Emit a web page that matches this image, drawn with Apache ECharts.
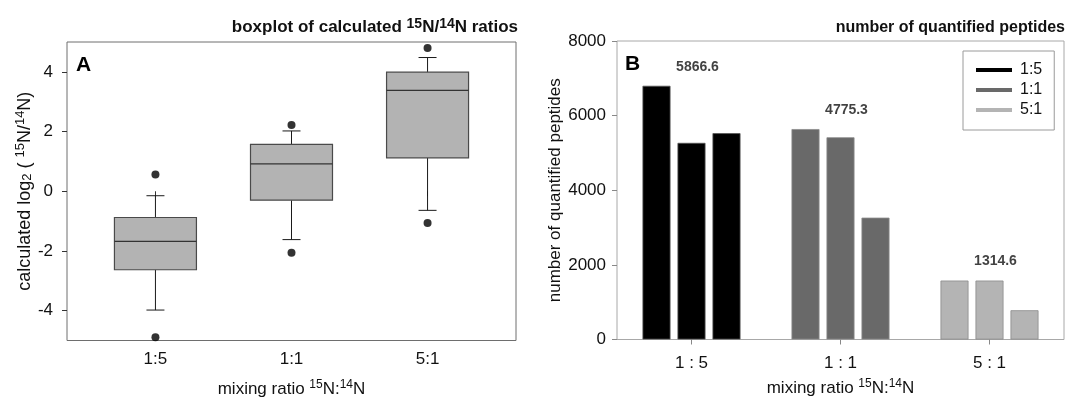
<!DOCTYPE html>
<html>
<head>
<meta charset="utf-8">
<script src="https://cdn.jsdelivr.net/npm/echarts@6/dist/echarts.min.js"></script>
<style>
  html, body { margin: 0; padding: 0; background: #fff; }
  #chart { width: 1067px; height: 398px; }
</style>
</head>
<body>
<div id="chart"></div>
<script>
// panel A: boxplot of calculated log2 ratios
const ratioLabels = ['1:5', '1:1', '5:1']
const ratioPos = [1, 2, 3]
const whiskerLow = [-3.98, -1.62, -0.64]
const q1 = [-2.63, -0.30, 1.12]
const median = [-1.68, 0.92, 3.38]
const q3 = [-0.88, 1.57, 3.99]
const whiskerHigh = [-0.15, 2.02, 4.48]
const outlierHigh = [0.56, 2.22, 4.80]
const outlierLow = [-4.89, -2.06, -1.06]
const ratioTicks = [-4, -2, 0, 2, 4]

// panel B: number of quantified peptides (3 replicates per mixing ratio)
const groupLabels = ['1 : 5', '1 : 1', '5 : 1']
const rep1 = [6800, 5640, 1580]
const rep2 = [5270, 5420, 1580]
const rep3 = [5530, 3266, 784]
const groupMeans = [5866.6, 4775.3, 1314.6]
const legendNames = ['1:5', '1:1', '5:1']

const groupColors = ['#000000', '#696969', '#b4b4b4']
const FONT = 'Liberation Sans'

const chart = echarts.init(document.getElementById('chart'), null, { renderer: 'canvas' })

// rich text styles for super/subscripts
const rich = (size, supSize, bold) => ({
  b: { fontSize: size, fontWeight: bold ? 'bold' : 'normal', lineHeight: size + 2, verticalAlign: 'bottom', fontFamily: FONT, color: '#111' },
  sup: { fontSize: supSize, fontWeight: bold ? 'bold' : 'normal', lineHeight: supSize, verticalAlign: 'top', fontFamily: FONT, color: '#111' },
  sub: { fontSize: supSize, fontWeight: bold ? 'bold' : 'normal', lineHeight: supSize, verticalAlign: 'bottom', fontFamily: FONT, color: '#111' },
})

const boxData = ratioPos.map((p, i) => [p, whiskerLow[i], q1[i], median[i], q3[i], whiskerHigh[i]])
const outlierData = ratioPos.map((p, i) => [p, outlierHigh[i]])
  .concat(ratioPos.map((p, i) => [p, outlierLow[i]]))

function renderBox(params, api) {
  const x = api.value(0)
  const lo = api.coord([x, api.value(1)])
  const b1 = api.coord([x, api.value(2)])
  const md = api.coord([x, api.value(3)])
  const b3 = api.coord([x, api.value(4)])
  const hi = api.coord([x, api.value(5)])
  const cx = lo[0]
  const half = 41
  const cap = 9
  const wl = { stroke: '#1a1a1a', lineWidth: 1 }
  return {
    type: 'group',
    children: [
      { type: 'line', shape: { x1: cx, y1: hi[1], x2: cx, y2: b3[1] }, style: wl },
      { type: 'line', shape: { x1: cx, y1: b1[1], x2: cx, y2: lo[1] }, style: wl },
      { type: 'line', shape: { x1: cx - cap, y1: hi[1], x2: cx + cap, y2: hi[1] }, style: wl },
      { type: 'line', shape: { x1: cx - cap, y1: lo[1], x2: cx + cap, y2: lo[1] }, style: wl },
      {
        type: 'rect',
        shape: { x: cx - half, y: b3[1], width: half * 2, height: b1[1] - b3[1] },
        style: { fill: '#b3b3b3', stroke: '#4a4a4a', lineWidth: 1.2 },
      },
      { type: 'line', shape: { x1: cx - half, y1: md[1], x2: cx + half, y2: md[1] }, style: { stroke: '#333', lineWidth: 1.2 } },
    ],
  }
}

const axisText = { fontSize: 17, color: '#111', fontFamily: FONT }

const option = {
  backgroundColor: '#ffffff',
  animation: false,
  textStyle: { fontFamily: FONT },
  title: [
    {
      text: '{b|boxplot of calculated }{sup|15}{b|N/}{sup|14}{b|N ratios}',
      right: 549,
      top: 17,
      padding: 0,
      textStyle: { rich: rich(17, 14, true) },
    },
    {
      text: '{b|number of quantified peptides}',
      right: 2,
      top: 18,
      padding: 0,
      textStyle: { rich: rich(16, 13, true) },
    },
  ],
  graphic: [
    { type: 'text', left: 76, top: 55, style: { text: 'A', font: 'bold 21px ' + FONT, fill: '#000' } },
    { type: 'text', left: 625, top: 54, style: { text: 'B', font: 'bold 21px ' + FONT, fill: '#000' } },
  ],
  legend: {
    data: legendNames,
    orient: 'vertical',
    left: 963,
    top: 51,
    padding: [10, 12, 11, 13],
    itemWidth: 36,
    itemHeight: 4,
    itemGap: 2,
    icon: 'rect',
    borderColor: '#9a9a9a',
    borderWidth: 1,
    selectedMode: false,
    textStyle: { fontSize: 16, lineHeight: 18, color: '#111', fontFamily: FONT, padding: [0, 0, 0, 3] },
  },
  grid: [
    { left: 67, top: 42, width: 449, height: 298.5, show: true, borderColor: '#6e6e6e', borderWidth: 1, containLabel: false, outerBoundsMode: 'none' },
    { left: 617, top: 41, width: 447, height: 298.5, show: true, borderColor: '#a8a8a8', borderWidth: 1, containLabel: false, outerBoundsMode: 'none' },
  ],
  xAxis: [
    {
      type: 'value',
      gridIndex: 0,
      min: 0.35,
      max: 3.65,
      splitLine: { show: false },
      axisLine: { show: false },
      axisTick: { show: true, customValues: ratioPos, length: 5, lineStyle: { color: '#333' } },
      axisLabel: { customValues: ratioPos, formatter: (v) => ratioLabels[Math.round(v) - 1], margin: 10, ...axisText },
      name: '{b|mixing ratio }{sup|15}{b|N:}{sup|14}{b|N}',
      nameLocation: 'middle',
      nameGap: 38,
      nameTextStyle: { rich: rich(17, 12, false) },
    },
    {
      type: 'category',
      gridIndex: 1,
      data: groupLabels,
      axisLine: { show: false },
      axisTick: { show: true, alignWithLabel: true, length: 5, lineStyle: { color: '#888' } },
      axisLabel: { margin: 15, ...axisText },
      name: '{b|mixing ratio }{sup|15}{b|N:}{sup|14}{b|N}',
      nameLocation: 'middle',
      nameGap: 38,
      nameTextStyle: { rich: rich(17, 12, false) },
    },
  ],
  yAxis: [
    {
      type: 'value',
      gridIndex: 0,
      min: -5,
      max: 5,
      splitLine: { show: false },
      axisLine: { show: false },
      axisTick: { show: true, customValues: ratioTicks, length: 5, lineStyle: { color: '#333' } },
      axisLabel: { customValues: ratioTicks, margin: 14, ...axisText },
      name: '{b|calculated log}{sub|2}{b| ( }{sup|15}{b|N/}{sup|14}{b|N)}',
      nameLocation: 'middle',
      nameGap: 31,
      nameTextStyle: { rich: rich(18, 13, false) },
    },
    {
      type: 'value',
      gridIndex: 1,
      min: 0,
      max: 8000,
      interval: 2000,
      splitLine: { show: false },
      axisLine: { show: false },
      axisTick: { show: true, length: 5, lineStyle: { color: '#888' } },
      axisLabel: { margin: 11, formatter: (v) => String(v), ...axisText },
      name: '{b|number of quantified peptides}',
      nameLocation: 'middle',
      nameGap: 53,
      nameTextStyle: { rich: rich(17, 12, false) },
    },
  ],
  series: [
    {
      name: 'box',
      type: 'custom',
      xAxisIndex: 0,
      yAxisIndex: 0,
      renderItem: renderBox,
      encode: { x: 0, y: [1, 2, 3, 4, 5] },
      data: boxData,
      z: 3,
    },
    {
      name: 'outliers',
      type: 'scatter',
      xAxisIndex: 0,
      yAxisIndex: 0,
      symbolSize: 8,
      itemStyle: { color: '#000' },
      data: outlierData,
      z: 4,
    },
    ...[rep1, rep2, rep3].map((rep, k) => ({
      name: 'rep' + (k + 1),
      type: 'bar',
      xAxisIndex: 1,
      yAxisIndex: 1,
      barWidth: 28,
      barGap: '25%',
      data: rep.map((v, i) => ({
        value: v,
        itemStyle: { color: groupColors[i], borderColor: i === 0 ? '#555' : '#8c8c8c', borderWidth: 0.8 },
      })),
    })),
    {
      name: 'means',
      type: 'scatter',
      xAxisIndex: 1,
      yAxisIndex: 1,
      symbolSize: 0,
      silent: true,
      data: groupLabels.map((c, i) => [i, Math.max(rep1[i], rep2[i], rep3[i])]),
      label: {
        show: true,
        position: 'top',
        distance: 12,
        offset: [6, 0],
        formatter: (p) => groupMeans[p.dataIndex].toFixed(1),
        fontSize: 14,
        fontWeight: 'bold',
        color: '#111',
        fontFamily: FONT,
      },
    },
    // legend entries only (line swatches)
    ...legendNames.map((n, i) => ({
      name: n,
      type: 'line',
      xAxisIndex: 1,
      yAxisIndex: 1,
      data: [],
      itemStyle: { color: groupColors[i] },
      lineStyle: { color: groupColors[i] },
    })),
  ],
}

chart.setOption(option)
</script>
</body>
</html>
